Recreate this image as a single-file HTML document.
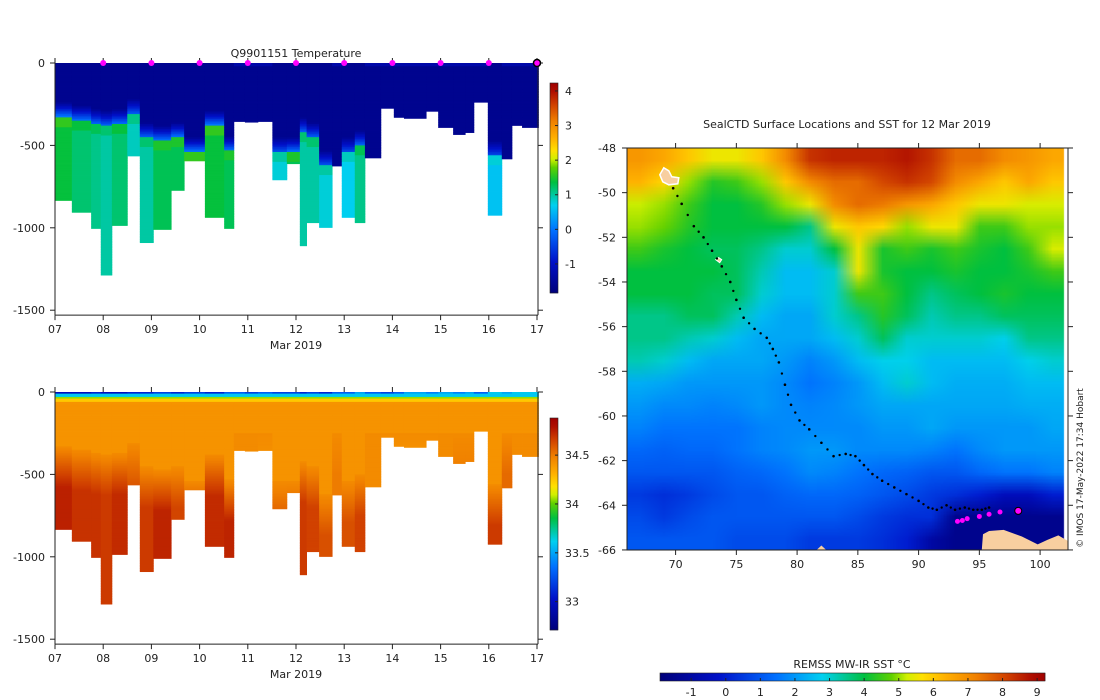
<!DOCTYPE html>
<html><head><meta charset="utf-8">
<style>
body{margin:0;background:#fff;width:1100px;height:700px;overflow:hidden;position:relative;font-family:"DejaVu Sans","Liberation Sans",sans-serif;}
#map{position:absolute;left:627px;top:148px;}
svg{position:absolute;left:0;top:0;}
text{font-family:"DejaVu Sans","Liberation Sans",sans-serif;font-size:11px;fill:#222;}
</style></head>
<body>
<canvas id="map" width="441" height="402"></canvas>
<svg id="s" width="1100" height="700"></svg>
<script>
// ---- profile data ----
const profStart=[7.00,7.35,7.75,7.95,8.18,8.50,8.76,9.04,9.41,9.68,10.11,10.51,10.71,10.94,11.21,11.51,11.81,12.08,12.22,12.48,12.75,12.95,13.22,13.43,13.76,14.03,14.24,14.70,14.95,15.26,15.51,15.69,15.98,16.27,16.48,16.69];
const profEnd=17.03;
const maxDepth=[834,906,1004,1287,986,564,1090,1010,773,594,937,1004,355,359,355,709,611,1109,969,998,625,937,969,576,275,330,336,293,391,434,422,238,924,582,379,391];
const coldDepth=[328,348,369,379,369,307,451,471,451,540,379,533,0,0,0,540,540,420,451,620,0,540,500,0,0,0,0,0,0,0,0,0,560,0,0,0];
const deepT=[1.4,1.2,1.1,1.0,1.2,0.9,1.0,1.3,1.3,1.4,1.4,1.3,-1.6,-1.6,-1.6,0.8,1.3,1.0,1.0,0.8,-1.6,0.7,1.1,-1.6,-1.6,-1.6,-1.6,-1.6,-1.6,-1.6,-1.6,-1.6,0.6,-1.6,-1.6,-1.6];
const deepS=[34.75,34.7,34.7,34.68,34.72,34.6,34.68,34.74,34.65,34.72,34.72,34.74,34.45,34.45,34.42,34.6,34.62,34.68,34.66,34.62,34.5,34.62,34.66,34.45,34.4,34.4,34.4,34.4,34.45,34.5,34.5,34.4,34.68,34.55,34.45,34.45];
const surfS=[33.0,33.0,33.1,33.0,33.0,33.1,33.1,33.2,33.1,33.2,33.1,33.3,33.3,33.2,33.3,33.2,33.2,33.1,33.2,33.1,33.3,33.3,33.5,33.3,33.2,33.3,33.5,33.4,33.5,33.4,33.5,33.3,33.6,33.5,33.6,33.6];
const tempTicks=[4,3,2,1,0,-1];
const salTicks=[34.5,34,33.5,33];
const dayTicks=["07","08","09","10","11","12","13","14","15","16","17"];
const depthTicks=[0,-500,-1000,-1500];
const markerDays=[8,9,10,11,12,13,14,15,16];
// ---- map data ----
const sstLons=[67,69,71,73,75,77,79,81,83,85,87,89,91,93,95,97,99,101];
const sstLats=[-48.5,-49.5,-50.5,-51.5,-52.5,-53.5,-54.5,-55.5,-56.5,-57.5,-58.5,-59.5,-60.5,-61.5,-62.5,-63.5,-64.5,-65.5];
const sstGrid=[
[6.8,6.5,6.0,5.5,5.5,6.0,7.0,8.3,8.5,8.5,8.5,8.7,8.3,7.5,7.5,7.0,6.8,6.5],
[6.3,5.8,5.0,4.3,4.5,5.0,6.0,7.0,7.5,7.5,8.0,8.3,8.0,7.0,6.5,6.0,6.5,6.0],
[5.2,5.0,4.5,4.0,4.0,4.3,5.0,5.5,7.0,7.5,7.3,6.8,6.5,6.0,5.5,5.5,5.3,5.3],
[5.0,4.8,4.3,4.0,4.0,4.0,4.0,3.5,5.5,6.0,5.8,5.0,5.5,5.5,4.5,4.5,5.0,5.0],
[4.5,4.2,4.0,3.8,3.8,3.5,3.0,3.0,4.0,5.5,4.2,4.5,4.2,4.5,4.2,4.0,4.5,5.3],
[4.0,4.0,4.0,4.0,3.8,3.2,2.5,2.5,3.0,5.5,4.2,4.0,4.0,4.2,4.0,4.0,4.2,4.5],
[4.0,4.0,4.0,3.8,3.8,3.0,2.5,2.5,3.0,4.5,4.5,4.0,3.5,3.8,4.0,4.2,4.0,4.0],
[3.5,3.5,3.8,3.8,3.2,2.5,2.2,2.2,3.0,3.5,4.3,3.8,3.2,3.5,3.5,3.8,3.8,3.8],
[3.5,3.5,3.2,3.0,2.5,2.2,2.2,2.2,2.5,3.0,3.8,3.0,3.0,3.0,3.0,2.8,3.5,3.5],
[3.2,3.0,2.5,2.2,2.2,2.2,2.0,1.7,2.0,2.5,2.8,2.8,2.5,2.5,2.5,2.5,2.8,3.0],
[2.3,2.2,2.0,2.0,2.0,2.0,1.8,1.5,1.7,2.0,2.5,3.0,2.5,2.3,2.3,2.3,2.5,2.5],
[2.0,1.8,1.8,1.7,1.8,2.0,1.8,1.7,1.8,2.0,2.2,2.2,2.2,2.2,2.2,2.2,2.3,2.3],
[1.7,1.5,1.5,1.5,1.5,1.7,1.8,1.8,1.8,1.8,2.0,2.0,2.2,2.0,2.0,2.0,2.0,2.2],
[1.3,1.2,1.3,1.3,1.5,1.7,1.8,2.0,2.0,1.8,1.8,1.8,1.7,1.5,1.8,2.0,2.0,2.0],
[1.0,1.0,1.0,1.0,1.2,1.3,1.5,1.8,1.7,1.5,1.3,1.2,1.0,1.0,1.3,1.5,1.5,1.7],
[0.5,0.3,0.5,0.8,1.0,1.0,1.2,1.3,1.3,1.2,1.0,0.8,0.5,0.3,0.0,-0.5,-0.5,0.0],
[0.8,0.5,0.8,1.0,1.0,1.0,1.0,1.0,1.0,0.8,0.5,0.3,0.3,-1.5,-1.5,-1.5,-1.5,-1.5],
[1.0,1.0,1.0,1.0,0.8,0.8,0.8,0.5,0.5,0.5,0.3,0.0,-1.0,-1.5,-1.5,-1.5,-1.5,-1.5]];
const trackLon=[69.8,70.5,71.5,72.3,73,73.8,74.5,75,75.6,76.5,77.5,78,78.5,79,79.5,80.2,81,82,83,84,84.8,85.5,86.2,87,88,89,90,90.8,91.5,92.3,93,93.8,94.5,95.2,95.8];
const trackLat=[-49.8,-50.5,-51.5,-52,-52.6,-53.3,-54,-54.8,-55.6,-56.1,-56.5,-57,-57.6,-58.6,-59.5,-60.2,-60.6,-61.2,-61.8,-61.7,-61.8,-62.2,-62.6,-62.9,-63.2,-63.5,-63.8,-64.1,-64.2,-64.0,-64.2,-64.1,-64.2,-64.2,-64.1];
const recLon=[93.2,93.6,94.0,95.0,95.8,96.7,98.2];
const recLat=[-64.72,-64.68,-64.6,-64.5,-64.4,-64.3,-64.25];
const sstTicks=[-1,0,1,2,3,4,5,6,7,8,9];
const lonTicks=[70,75,80,85,90,95,100];
const latTicks=[-48,-50,-52,-54,-56,-58,-60,-62,-64,-66];

// ---- colormap ----
const stops=[[0,[0,0,122]],[0.15,[0,16,200]],[0.3,[0,112,255]],[0.42,[0,208,240]],[0.47,[0,200,160]],[0.53,[0,192,64]],[0.6,[96,208,0]],[0.64,[208,240,0]],[0.68,[255,224,0]],[0.74,[255,176,0]],[0.82,[240,128,0]],[0.9,[208,64,0]],[0.96,[176,16,0]],[1,[160,0,0]]];
function cmap(f){f=Math.max(0,Math.min(1,f));for(let i=1;i<stops.length;i++){if(f<=stops[i][0]){const a=stops[i-1],b=stops[i],t=(f-a[0])/(b[0]-a[0]);return 'rgb('+a[1].map((v,k)=>Math.round(v+(b[1][k]-v)*t)).join(',')+')';}}return 'rgb(160,0,0)';}
const NS='http://www.w3.org/2000/svg',S=document.getElementById('s');
function el(tag,at,parent){const e=document.createElementNS(NS,tag);for(const k in at)e.setAttribute(k,at[k]);(parent||S).appendChild(e);return e;}
function txt(x,y,s,anchor,parent,size){const t=el('text',{x:x,y:y,'text-anchor':anchor||'middle'},parent);if(size)t.style.fontSize=size+'px';t.textContent=s;return t;}

const X0=55,DAYW=48.2;
function xDay(d){return X0+(d-7)*DAYW;}
function tempAt(i,z){const c=coldDepth[i];if(!c)return -1.6+(z<25?0.3:0);if(z<c-90)return -1.6;if(z<c)return -1.6+(deepT[i]+1.4)*((z-(c-90))/90)*0.6;return z<c+60?deepT[i]+0.2:deepT[i];}
function salAt(i,z){if(z<15)return surfS[i];if(z<30)return 33.6;if(z<45)return 34.05;if(z<65)return 34.25;const c=coldDepth[i]||250;if(z<c)return 34.42;const f=Math.min(1,(z-c)/250);return 34.45+(deepS[i]-34.45)*f;}

function panel(y0,title,valFn,vmin,vmax,ticks,cbTop,cbBot,name){
  const g=el('g',{});
  
  
  const yD=z=>y0+z/500*82.4;
  for(let i=0;i<profStart.length;i++){
    const x1=xDay(profStart[i]),x2=xDay(i+1<profStart.length?profStart[i+1]:profEnd);
    const pg=el('g',{},g);
    
    
    for(let z=0;z<maxDepth[i];z+=10){
      const z2=Math.min(z+10,maxDepth[i]);
      el('rect',{x:x1,y:yD(z),width:x2-x1+0.4,height:yD(z2)-yD(z)+0.4,fill:cmap((valFn(i,z+5)-vmin)/(vmax-vmin))},pg);
    }
  }
  const ax=el('g',{stroke:'#222','stroke-width':1,fill:'none'},g);
  
  
  el('line',{x1:55,y1:y0,x2:55,y2:yD(1530)},ax);
  el('line',{x1:55,y1:yD(1530),x2:538,y2:yD(1530)},ax);
  el('line',{x1:538,y1:y0,x2:538,y2:yD(1530)},ax);
  depthTicks.forEach(v=>{const y=yD(-v);el('line',{x1:50,y1:y,x2:55,y2:y},ax);el('line',{x1:538,y1:y,x2:543,y2:y},ax);const t=txt(45,y+4,String(v),'end',g);});
  dayTicks.forEach((d,k)=>{const x=xDay(7+k);el('line',{x1:x,y1:yD(1530),x2:x,y2:yD(1530)+5},ax);el('line',{x1:x,y1:y0-5,x2:x,y2:y0},ax);const t=txt(x,yD(1530)+18,d,'middle',g);});
  const xl=txt(296,yD(1530)+34,'Mar 2019','middle',g);
  if(title){const tt=txt(296,57,title,'middle',g);}
  const cb=el('g',{},g);
  
  
  for(let y=cbTop;y<cbBot;y+=1){el('rect',{x:550,y:y,width:8,height:1.2,fill:cmap(1-(y-cbTop)/(cbBot-cbTop))},cb);}
  el('rect',{x:550,y:cbTop,width:8,height:cbBot-cbTop,fill:'none',stroke:'#222','stroke-width':0.6},cb);
  ticks.forEach(v=>{const y=cbBot-(v-vmin)/(vmax-vmin)*(cbBot-cbTop);el('line',{x1:555,y1:y,x2:558,y2:y,stroke:'#222'},cb);txt(565,y+4,String(v),'start',cb);});
  return yD;
}
panel(63,'Q9901151  Temperature',tempAt,-1.84,4.23,tempTicks,83,293,'temperature');
panel(392,'',salAt,32.71,34.88,salTicks,418,630,'salinity');
markerDays.forEach(d=>{const c=el('circle',{cx:xDay(d),cy:63,r:3,fill:'#ff00ff'});});
const last=el('circle',{cx:537,cy:63,r:3.5,fill:'#ff00ff',stroke:'#000','stroke-width':1.5});



// ---- map ----
const ML=627,MT=148,MR=1068,MB=550;
function lonX(l){return ML+(l-66)*12.15;}
function latY(l){return MT+(-48-l)*22.33;}
const cv=document.getElementById('map'),ctx=cv.getContext('2d');
const off=document.createElement('canvas');off.width=sstLons.length;off.height=sstLats.length;
const oc=off.getContext('2d');
for(let r=0;r<sstLats.length;r++)for(let c=0;c<sstLons.length;c++){oc.fillStyle=cmap((sstGrid[r][c]+1.9)/11.13);oc.fillRect(c,r,1,1);}
ctx.imageSmoothingEnabled=true;
const cw=12.15*2,ch=22.33;
ctx.drawImage(off,lonX(sstLons[0])-ML-cw/2,latY(sstLats[0])-MT-ch/2,cw*sstLons.length,ch*sstLats.length);
const land=el('path',{d:`M${lonX(95.2)} ${MB} L${lonX(95.3)} ${latY(-65.3)} L${lonX(95.8)} ${latY(-65.15)} L${lonX(97)} ${latY(-65.1)} L${lonX(98.5)} ${latY(-65.4)} L${lonX(99.8)} ${latY(-65.75)} L${lonX(100.6)} ${latY(-65.55)} L${lonX(101.5)} ${latY(-65.35)} L${MR} ${latY(-65.6)} L${MR} ${MB} Z`,fill:'#f8cfa0'});


const land2=el('path',{d:`M${lonX(81.6)} ${MB} L${lonX(82)} ${latY(-65.8)} L${lonX(82.4)} ${MB} Z`,fill:'#f8cfa0'});


const kg=el('path',{d:`M${lonX(68.7)} ${latY(-49.2)} l4 -7 l5 3 l3 6 l7 1 l-1 6 l-9 1 l-6 -3 z`,fill:'#f8cfa0',stroke:'#fff','stroke-width':1.5});


const hi=el('path',{d:`M${lonX(73.3)} ${latY(-53)} l3 -2 l3 2 l-2 3 z`,fill:'#f8cfa0',stroke:'#fff','stroke-width':1});


const tg=el('g',{fill:'#000'});


for(let i=0;i<trackLon.length;i++){
  el('circle',{cx:lonX(trackLon[i]),cy:latY(trackLat[i]),r:1.3},tg);
  if(i+1<trackLon.length){el('circle',{cx:(lonX(trackLon[i])+lonX(trackLon[i+1]))/2,cy:(latY(trackLat[i])+latY(trackLat[i+1]))/2,r:1.2},tg);}
}
for(let i=0;i<recLon.length;i++){
  const big=i===recLon.length-1;
  const c=el('circle',{cx:lonX(recLon[i]),cy:latY(recLat[i]),r:big?3.5:2.5,fill:'#ff00ff',stroke:big?'#000':'none','stroke-width':1});
  
  
}
const mb=el('rect',{x:ML,y:MT,width:MR-ML,height:MB-MT,fill:'none',stroke:'#222','stroke-width':1});


lonTicks.forEach(l=>{const x=lonX(l);el('line',{x1:x,y1:MB,x2:x,y2:MB+5,stroke:'#222'});el('line',{x1:x,y1:MT,x2:x,y2:MT-5,stroke:'#222'});const t=txt(x,MB+18,String(l));});
latTicks.forEach(l=>{const y=latY(l);el('line',{x1:ML-5,y1:y,x2:ML,y2:y,stroke:'#222'});el('line',{x1:MR,y1:y,x2:MR+5,y2:y,stroke:'#222'});const t=txt(616,y+4,String(l),'end');});
const mt=txt(847,128,'SealCTD Surface Locations and SST for 12 Mar 2019');


const cr=txt(0,0,'© IMOS 17-May-2022 17:34 Hobart','middle',null,9);
cr.setAttribute('transform','translate(1083,468) rotate(-90)');


const hc=el('g',{});


for(let x=660;x<1045;x++){el('rect',{x:x,y:673,width:1.3,height:8,fill:cmap((x-660)/385)},hc);}
el('rect',{x:660,y:673,width:385,height:8,fill:'none',stroke:'#222','stroke-width':0.6},hc);
sstTicks.forEach(v=>{const x=660+(v+1.9)*34.6;el('line',{x1:x,y1:678,x2:x,y2:681,stroke:'#222'},hc);txt(x,696,String(v),'middle',hc);});
const ct=txt(852,668,'REMSS MW-IR SST °C','middle',hc);


</script>
</body></html>
